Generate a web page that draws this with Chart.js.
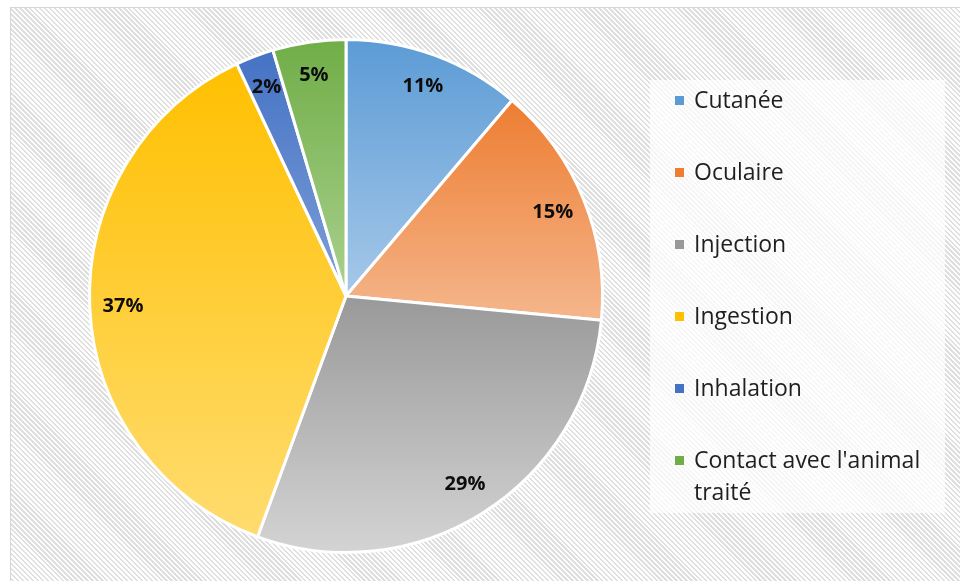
<!DOCTYPE html>
<html lang="fr">
<head>
    <meta charset="UTF-8">
    <title>Voies d'exposition</title>
    <script src="https://cdn.jsdelivr.net/npm/chart.js"></script>
    <style>
        body {
            margin: 0;
            padding: 0;
            background: #fff;
            overflow: hidden;
        }
        #wrap {
            position: absolute;
            left: 10px;
            top: 7px;
            width: 950px;
            height: 574px;
            border: 1px solid #d6d6d6;
            background: repeating-linear-gradient(45deg, #fff 0, #fff 1.8px, #dfdfdf 1.8px, #dfdfdf 3.5px);
        }
        canvas {
            display: block;
        }
    </style>
</head>
<body>
    <div id="wrap"><canvas id="myChart" width="950" height="574"></canvas></div>

    <script>
        // Données
        const categories = ['Cutanée', 'Oculaire', 'Injection', 'Ingestion', 'Inhalation', "Contact avec l'animal traité"];
        const legendLines = [['Cutanée'], ['Oculaire'], ['Injection'], ['Ingestion'], ['Inhalation'], ["Contact avec l'animal", 'traité']];
        const values = [11.2, 15.3, 29.1, 37.4, 2.4, 4.6];

        // Couleurs (haut -> bas du dégradé)
        const topColors = ['#5b9bd5', '#ed7d31', '#999999', '#ffc000', '#4472c4', '#70ad47'];
        const bottomColors = ['#a6c8e9', '#f5b68c', '#d4d4d4', '#ffdc70', '#7f9fd8', '#a9d18e'];

        const total = values.reduce((a, b) => a + b, 0);

        // dégradé vertical propre à chaque secteur
        function sliceGradient(context) {
            const chart = context.chart;
            const area = chart.chartArea;
            const i = context.dataIndex;
            if (!area || i === undefined) return topColors[i] || '#ccc';
            const cx = (area.left + area.right) / 2;
            const cy = (area.top + area.bottom) / 2;
            const r = Math.min(area.width, area.height) / 2;
            let cum = 0;
            for (let k = 0; k < i; k++) cum += values[k];
            const a0 = -Math.PI / 2 + 2 * Math.PI * cum / total;
            const a1 = a0 + 2 * Math.PI * values[i] / total;
            const ys = [cy, cy + Math.sin(a0) * r, cy + Math.sin(a1) * r];
            for (let k = -1; k <= 4; k++) {
                const a = k * Math.PI / 2;
                if (a > a0 && a < a1) ys.push(cy + Math.sin(a) * r);
            }
            const y0 = Math.min(...ys), y1 = Math.max(...ys);
            const g = chart.ctx.createLinearGradient(0, y0, 0, y1);
            g.addColorStop(0, topColors[i]);
            g.addColorStop(1, bottomColors[i]);
            return g;
        }

        // étiquettes de pourcentage dans les secteurs
        const percentLabels = {
            id: 'percentLabels',
            afterDatasetsDraw(chart) {
                const ctx = chart.ctx;
                const arcs = chart.getDatasetMeta(0).data;
                ctx.save();
                ctx.font = 'bold 20px "Open Sans"';
                ctx.fillStyle = '#0d0d0d';
                ctx.textAlign = 'center';
                ctx.textBaseline = 'middle';
                arcs.forEach((arc, i) => {
                    const mid = (arc.startAngle + arc.endAngle) / 2;
                    const rr = arc.outerRadius * 0.87;
                    const txt = Math.round(values[i] / total * 100) + '%';
                    ctx.fillText(txt, arc.x + Math.cos(mid) * rr, arc.y + Math.sin(mid) * rr);
                });
                ctx.restore();
            }
        };

        // légende à droite
        const sideLegend = {
            id: 'sideLegend',
            afterDraw(chart) {
                const ctx = chart.ctx;
                ctx.save();
                ctx.fillStyle = 'rgba(255,255,255,0.7)';
                ctx.fillRect(639, 72, 295, 433);
                ctx.font = '23px "Open Sans"';
                ctx.textBaseline = 'middle';
                ctx.textAlign = 'left';
                let y = 93;
                legendLines.forEach((lines, i) => {
                    ctx.fillStyle = topColors[i];
                    ctx.fillRect(664, y - 5, 9, 9);
                    ctx.fillStyle = '#1f1f1f';
                    lines.forEach((t, j) => ctx.fillText(t, 683, y + j * 32));
                    y += 72;
                });
                ctx.restore();
            }
        };

        const ctx = document.getElementById('myChart').getContext('2d');
        new Chart(ctx, {
            type: 'pie',
            data: {
                labels: categories,
                datasets: [{
                    data: values,
                    backgroundColor: sliceGradient,
                    borderColor: '#fff',
                    borderWidth: 3
                }]
            },
            options: {
                responsive: false,
                animation: false,
                layout: {
                    padding: { left: 77, right: 357, top: 30, bottom: 28 }
                },
                plugins: {
                    legend: { display: false },
                    tooltip: { enabled: false }
                }
            },
            plugins: [percentLabels, sideLegend]
        });
    </script>
</body>
</html>
